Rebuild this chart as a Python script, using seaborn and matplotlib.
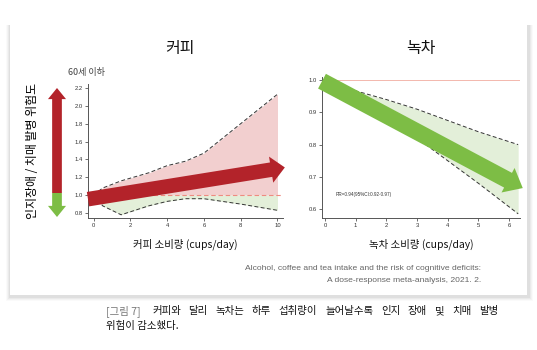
import numpy as np
import pandas as pd
import matplotlib
matplotlib.use('Agg')
import matplotlib.pyplot as plt
from matplotlib.patches import FancyArrowPatch, Rectangle
import seaborn as sns

sns.set_theme(style='ticks')
plt.rcParams['font.family'] = ['Noto Sans CJK KR', 'DejaVu Sans']
plt.rcParams['axes.unicode_minus'] = False

# 커피 (60세 이하) 용량-반응 신뢰구간
coffee_x = [0, 0.5, 1.5, 3, 4, 5, 6, 8, 10]
coffee_upper = [1.0, 1.08, 1.16, 1.25, 1.33, 1.38, 1.47, 1.80, 2.13]
coffee_lower = [1.0, 0.88, 0.78, 0.88, 0.93, 0.96, 0.96, 0.90, 0.83]
coffee_trend = [(-0.3, 0.955), (10.4, 1.31)]

# 녹차 용량-반응 신뢰구간
tea_x = [0, 0.7, 2, 3, 4, 5, 6.3]
tea_upper = [1.0, 0.975, 0.94, 0.91, 0.875, 0.84, 0.80]
tea_lower = [1.0, 0.975, 0.89, 0.82, 0.75, 0.68, 0.585]
tea_trend = [(-0.1, 0.997), (6.45, 0.665)]

coffee_yticks = [0.8, 1.0, 1.2, 1.4, 1.6, 1.8, 2.0, 2.2]
coffee_xticks = [0, 2, 4, 6, 8, 10]
tea_yticks = [0.6, 0.7, 0.8, 0.9, 1.0]
tea_xticks = [0, 1, 2, 3, 4, 5, 6]

caption_words = ['커피와', '달리', '녹차는', '하루', '섭취량이', '늘어날수록', '인지', '장애', '및', '치매', '발병']

PINK = '#f2cfcf'
LGREEN = '#e3efd9'
RED = '#b3232a'
GREEN = '#7dbd45'
LATIN = ['Liberation Sans', 'DejaVu Sans']

W, H = 537, 350
fig = plt.figure(figsize=(W / 100, H / 100), dpi=100)
fig.patch.set_facecolor('white')

def fx(px):
    return px / W

def fy(py):
    return 1 - py / H

# card with soft shadow
for i, a in enumerate([0.04, 0.06, 0.08, 0.11]):
    off = 4 - i
    fig.patches.append(Rectangle((fx(10 - off), fy(297 + off)), fx(519 + 2 * off), (297 + off - 25) / H,
                                 transform=fig.transFigure, facecolor='#888888', alpha=a,
                                 edgecolor='none', zorder=0))
fig.patches.append(Rectangle((fx(10), fy(295)), fx(517), 270 / H, transform=fig.transFigure,
                             facecolor='white', edgecolor='none', zorder=1))


def style_ax(ax):
    sns.despine(ax=ax)
    for s in ['left', 'bottom']:
        ax.spines[s].set_color('#555555')
        ax.spines[s].set_linewidth(0.7)
    ax.tick_params(axis='both', labelsize=4.2, length=2, width=0.5, colors='#333333', pad=1.5)
    for lab in ax.get_xticklabels() + ax.get_yticklabels():
        lab.set_family(LATIN)
    ax.set_facecolor('none')
    ax.grid(False)


def big_arrow(ax, start, end, color, hl, hw, tw):
    ax.add_patch(FancyArrowPatch(start, end,
                                 arrowstyle=f'simple,head_length={hl},head_width={hw},tail_width={tw}',
                                 mutation_scale=1, color=color, lw=0, shrinkA=0, shrinkB=0,
                                 clip_on=False, zorder=5))


# ---- 커피 ----
ax1 = fig.add_axes([fx(88), fy(218), fx(195), 134.5 / H])
ax1.set_zorder(2)
cx = np.array(coffee_x)
cu = np.array(coffee_upper)
cl = np.array(coffee_lower)
ax1.fill_between(cx, np.maximum(cl, 1.0), cu, color=PINK, lw=0)
ax1.fill_between(cx, cl, np.minimum(cu, 1.0), color=LGREEN, lw=0)
df_c = pd.DataFrame({'x': np.r_[cx, cx], 'y': np.r_[cu, cl],
                     'b': ['upper'] * len(cx) + ['lower'] * len(cx)})
sns.lineplot(data=df_c, x='x', y='y', units='b', estimator=None, ax=ax1,
             color='#333333', lw=0.7, linestyle=(0, (4, 2.5)))
ax1.axhline(1.0, color='#ee8b80', lw=0.8, linestyle=(0, (4, 2.5)))
ax1.set_xlim(-0.3, 10.3)
ax1.set_ylim(0.744, 2.25)
ax1.set_xticks(coffee_xticks)
ax1.set_yticks(coffee_yticks)
ax1.set_yticklabels([f'{v:.1f}' for v in coffee_yticks])
ax1.set_xlabel('커피 소비량 (cups/day)', fontsize=7.5, labelpad=8, color='#111111')
ax1.set_ylabel('')
style_ax(ax1)
big_arrow(ax1, coffee_trend[0], coffee_trend[1], RED, 10, 19, 10.5)

# ---- 녹차 ----
ax2 = fig.add_axes([fx(322), fy(218), fx(198), 141 / H])
ax2.set_zorder(2)
tx = np.array(tea_x)
ax2.fill_between(tx, tea_lower, tea_upper, color=LGREEN, lw=0)
df_t = pd.DataFrame({'x': np.r_[tx, tx], 'y': np.r_[tea_upper, tea_lower],
                     'b': ['upper'] * len(tx) + ['lower'] * len(tx)})
sns.lineplot(data=df_t, x='x', y='y', units='b', estimator=None, ax=ax2,
             color='#333333', lw=0.7, linestyle=(0, (4, 2.5)))
ax2.axhline(1.0, color='#f3b7ad', lw=0.7)
ax2.set_xlim(-0.1, 6.36)
ax2.set_ylim(0.572, 1.01)
ax2.set_xticks(tea_xticks)
ax2.set_yticks(tea_yticks)
ax2.set_yticklabels([f'{v:.1f}' for v in tea_yticks])
ax2.set_xlabel('녹차 소비량 (cups/day)', fontsize=7.5, labelpad=8, color='#111111')
ax2.set_ylabel('')
style_ax(ax2)
ax2.text(0.35, 0.646, 'RR=0.94(95%CI:0.92-0.97)', fontsize=3.3, color='#333333', va='center',
         family=LATIN)
big_arrow(ax2, tea_trend[0], tea_trend[1], GREEN, 12, 20, 12)

# titles
fig.text(fx(180), fy(48), '커피', fontsize=11.5, ha='center', va='center', color='#111111')
fig.text(fx(421), fy(48), '녹차', fontsize=11.5, ha='center', va='center', color='#111111')
fig.text(fx(68), fy(73), '60세 이하', fontsize=6.5, ha='left', va='center', color='#444444')

# risk arrow on the left
for (y0, y1, col) in [(193, 88, RED), (193, 217, GREEN)]:
    fig.patches.append(FancyArrowPatch((fx(57), fy(y0)), (fx(57), fy(y1)), transform=fig.transFigure,
                                       arrowstyle='simple,head_length=8,head_width=13,tail_width=7',
                                       mutation_scale=1, color=col, lw=0, shrinkA=0, shrinkB=0,
                                       zorder=3))
fig.text(fx(33), fy(151), '인지장애 / 치매 발병 위험도', rotation=90, fontsize=8.6,
         ha='center', va='center', color='#000000')

# source
fig.text(fx(481), fy(268), 'Alcohol, coffee and tea intake and the risk of cognitive deficits:',
         fontsize=6.1, ha='right', va='center', color='#666666', zorder=3, family=LATIN)
fig.text(fx(481), fy(281), 'A dose-response meta-analysis, 2021. 2.',
         fontsize=6.1, ha='right', va='center', color='#666666', zorder=3, family=LATIN)

# caption (justified between 152 and 498 px)
fig.text(fx(106), fy(311), '[그림 7]', fontsize=7.5, ha='left', va='center', color='#777777')
renderer = fig.canvas.get_renderer()
tmp = [fig.text(0, 0, w, fontsize=7.5) for w in caption_words]
widths = [t.get_window_extent(renderer).width for t in tmp]
for t in tmp:
    t.remove()
gap = (498 - 152 - sum(widths)) / (len(caption_words) - 1)
xpos = 152
for w, wd in zip(caption_words, widths):
    fig.text(fx(xpos), fy(311), w, fontsize=7.5, ha='left', va='center', color='#111111')
    xpos += wd + gap
fig.text(fx(106), fy(326), '위험이 감소했다.', fontsize=7.5, ha='left', va='center', color='#111111')

fig.savefig('out.png', dpi=100)
